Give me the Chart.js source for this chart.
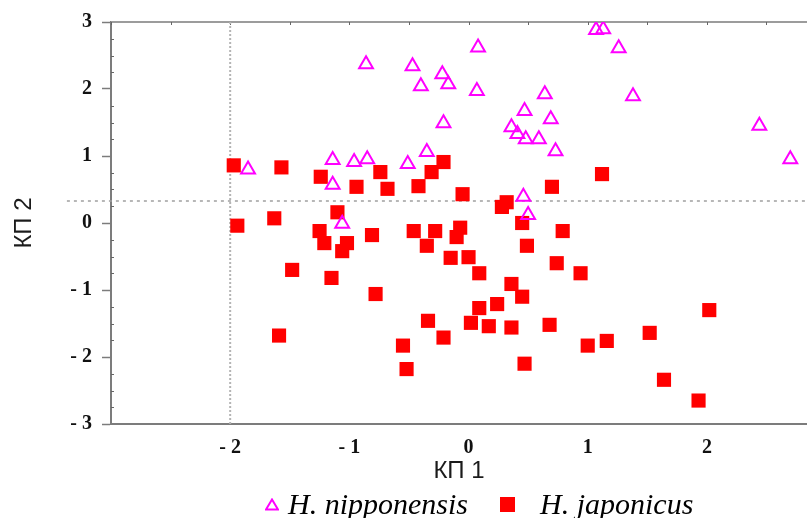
<!DOCTYPE html>
<html>
<head>
<meta charset="utf-8">
<script src="https://cdn.jsdelivr.net/npm/chart.js@4.4.1/dist/chart.umd.min.js"></script>
<style>
    html, body { margin: 0; padding: 0; background: #fff; }
    #wrap { position: relative; width: 807px; height: 518px; overflow: hidden; }
    #pcaLegend { position: absolute; left: 0; top: 489px; width: 807px; height: 30px; }
    .leg-item { position: absolute; top: 0; height: 30px; display: flex; align-items: center; }
    .leg-text { font-family: 'Liberation Serif', 'Times New Roman', serif; font-style: italic; font-size: 30px; line-height: 30px; color: #000; white-space: nowrap; }
</style>
</head>
<body>
<div id="wrap">
    <canvas id="pcaChart" width="807" height="518"></canvas>
    <div id="pcaLegend"></div>
</div>
<script>
// ==========================================
// КП 1 / КП 2 scatter - H. nipponensis vs H. japonicus
// ==========================================

const nipponX = [-1.85, -1.14, -1.14, -0.96, -0.85, -1.06, -0.86, -0.47, -0.40, -0.22, -0.17, -0.51, -0.35, -0.21, 0.08, 0.07,
    0.47, 0.36, 0.41, 0.48, 0.59, 0.64, 0.69, 0.73, 0.46, 0.50, 1.07, 1.13, 1.26, 1.38, 2.44, 2.70];
const nipponY = [0.80, 0.94, 0.57, 0.91, 0.95, -0.01, 2.37, 2.34, 2.04, 2.22, 2.07, 0.88, 1.06, 1.49, 2.62, 1.97,
    1.67, 1.43, 1.33, 1.25, 1.25, 1.92, 1.55, 1.07, 0.39, 0.12, 2.88, 2.89, 2.61, 1.89, 1.45, 0.95];

const japonX = [-1.97, -1.57, -1.24, -0.74, -0.94, -0.68, -1.10, -1.63, -1.94, -1.25, -0.81, -1.21, -1.02, -1.06, -1.48, -1.15,
    -0.78, -1.59, -0.55, -0.52, -0.21, -0.31, -0.42, -0.05, 0.32, 0.28, 0.70, 1.12, 0.45, -0.46, -0.28, -0.07,
    -0.10, 0.79, -0.35, 0.49, -0.15, 0.00, 0.74, 0.94, 0.09, 0.36, 0.45, 0.24, 0.09, -0.34, 0.02, 0.17,
    0.36, 0.68, -0.21, 1.00, 1.16, 0.47, 2.02, 1.52, 1.64, 1.93];
const japonY = [0.86, 0.83, 0.69, 0.76, 0.54, 0.51, 0.16, 0.07, -0.04, -0.12, -0.18, -0.30, -0.30, -0.42, -0.70, -0.82,
    -1.06, -1.68, -1.83, -2.18, 0.91, 0.76, 0.55, 0.43, 0.31, 0.24, 0.54, 0.73, 0.00, -0.12, -0.12, -0.07,
    -0.21, -0.12, -0.34, -0.34, -0.52, -0.51, -0.60, -0.75, -0.75, -0.91, -1.10, -1.21, -1.27, -1.46, -1.49, -1.54,
    -1.56, -1.52, -1.71, -1.83, -1.76, -2.10, -1.30, -1.64, -2.34, -2.65];

const seriesNames = ['H. nipponensis', 'H. japonicus'];
const xTickValues = [-2, -1, 0, 1, 2];
const yTickValues = [-3, -2, -1, 0, 1, 2, 3];

// reference lines
const refX = -2;
const refY = 0.33;
const refYFrom = -3.37;

const tickFont = { family: "'Liberation Serif', 'Times New Roman', serif", weight: 'bold', size: 20 };
const titleFont = { family: "'Liberation Sans', Arial, sans-serif", size: 24 };
const fmt = v => v < 0 ? '- ' + Math.abs(v) : String(v);

const toPoints = (xs, ys) => xs.map((x, i) => ({ x, y: ys[i] }));

const refLines = {
    id: 'refLines',
    beforeDatasetsDraw(chart) {
        const { ctx, chartArea: a, scales: { x, y } } = chart;
        ctx.save();
        // top frame
        ctx.strokeStyle = '#9c9c9c';
        ctx.lineWidth = 2;
        ctx.beginPath();
        ctx.moveTo(a.left, a.top);
        ctx.lineTo(a.right, a.top);
        ctx.stroke();
        // small ticks
        ctx.strokeStyle = '#666';
        ctx.lineWidth = 1;
        ctx.beginPath();
        x.ticks.forEach(t => {
            if (Math.abs(t.value * 2 - Math.round(t.value * 2)) > 1e-6) return;
            const px = Math.round(x.getPixelForValue(t.value)) + 0.5;
            ctx.moveTo(px, a.top); ctx.lineTo(px, a.top + 3);
        });
        y.ticks.forEach(t => {
            if (Number.isInteger(t.value)) return;
            const py = Math.round(y.getPixelForValue(t.value)) + 0.5;
            ctx.moveTo(a.left, py); ctx.lineTo(a.left + 3, py);
        });
        ctx.stroke();
        // vertical dotted
        ctx.setLineDash([2, 2]);
        ctx.strokeStyle = '#b4b4b4';
        ctx.lineWidth = 2;
        const vx = x.getPixelForValue(refX);
        ctx.beginPath();
        ctx.moveTo(vx, a.top);
        ctx.lineTo(vx, a.bottom);
        ctx.stroke();
        // horizontal dashed
        ctx.setLineDash([3, 4]);
        ctx.strokeStyle = '#a0a0a0';
        ctx.lineWidth = 1.5;
        const hy = y.getPixelForValue(refY);
        ctx.beginPath();
        ctx.moveTo(x.getPixelForValue(refYFrom), hy);
        ctx.lineTo(a.right, hy);
        ctx.stroke();
        ctx.restore();
    }
};

const datasets = [
    {
        label: seriesNames[0],
        data: toPoints(nipponX, nipponY),
        pointStyle: 'triangle',
        pointRadius: 8,
        pointBorderWidth: 2,
        borderColor: '#ff00ff',
        backgroundColor: 'rgba(255,255,255,0)'
    },
    {
        label: seriesNames[1],
        data: toPoints(japonX, japonY),
        pointStyle: 'rect',
        pointRadius: 10,
        pointBorderWidth: 0,
        borderColor: '#ff0000',
        backgroundColor: '#ff0000'
    }
];

new Chart(document.getElementById('pcaChart'), {
    type: 'scatter',
    data: { datasets },
    options: {
        responsive: false,
        animation: false,
        events: [],
        layout: { autoPadding: false, padding: { top: 22, right: 0, bottom: 24, left: 0 } },
        plugins: { legend: { display: false }, tooltip: { enabled: false } },
        scales: {
            x: {
                type: 'linear', min: -3, max: 2.84,
                afterFit: s => { s.height = 70; },
                afterBuildTicks: s => { s.ticks = [-3, -2.5, -2, -1.5, -1, -0.5, 0, 0.5, 1, 1.5, 2, 2.5].map(v => ({ value: v })); },
                border: { color: '#7c7c7c', width: 2 },
                grid: { drawOnChartArea: false, drawTicks: false },
                ticks: {
                    autoSkip: false, maxRotation: 0, padding: 12, color: '#111', font: tickFont,
                    callback: v => xTickValues.includes(v) ? fmt(v) : ''
                },
                title: { display: true, text: 'КП 1', color: '#1b1b1b', font: titleFont, padding: { top: 0, bottom: 8.6 } }
            },
            y: {
                min: -3, max: 3,
                afterFit: s => { s.width = 111; },
                border: { color: '#7c7c7c', width: 2 },
                grid: {
                    drawOnChartArea: false, tickLength: 9, tickWidth: 1.5,
                    tickColor: c => Number.isInteger(c.tick.value) ? '#7c7c7c' : 'rgba(0,0,0,0)'
                },
                ticks: {
                    stepSize: 0.25, autoSkip: false, padding: 10, color: '#111', font: tickFont,
                    callback: v => yTickValues.includes(v) ? fmt(v) : ''
                },
                title: { display: true, text: 'КП 2', color: '#1b1b1b', font: titleFont, padding: { top: 10, bottom: 0 } }
            }
        }
    },
    plugins: [refLines]
});

// legend in HTML
const legendLeft = [265, 500];
const markerSvg = [
    '<svg width="14" height="13"><polygon points="7,1.5 13,11.5 1,11.5" fill="none" stroke="#ff00ff" stroke-width="2"/></svg>',
    '<svg width="15" height="15"><rect x="0" y="0" width="15" height="15" fill="#ff0000"/></svg>'
];
const markerGap = [9, 25];
const legend = document.getElementById('pcaLegend');
seriesNames.forEach((name, i) => {
    legend.insertAdjacentHTML('beforeend', `
        <div class="leg-item" style="left:${legendLeft[i]}px">
            ${markerSvg[i]}<span class="leg-text" style="margin-left:${markerGap[i]}px">${name}</span>
        </div>
    `);
});
</script>
</body>
</html>
